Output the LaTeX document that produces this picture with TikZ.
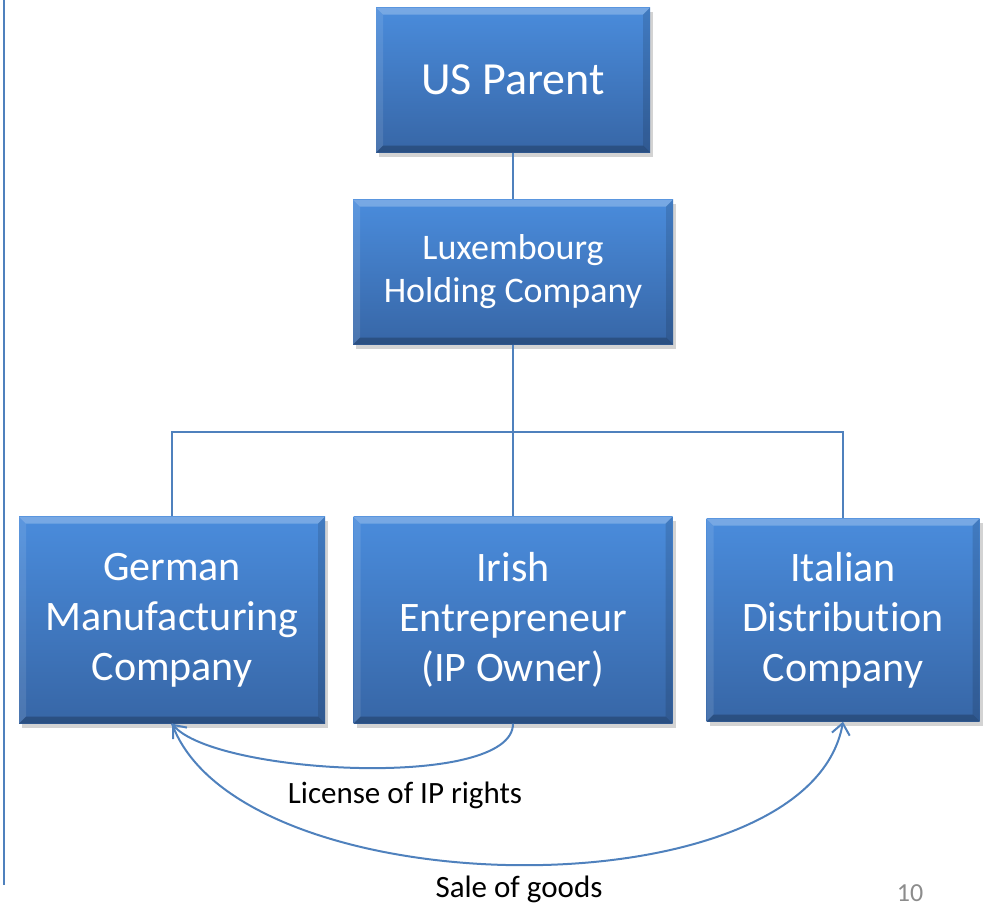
\documentclass[tikz,border=0pt]{standalone}
\usepackage{fontspec}
\setmainfont[Ligatures={NoCommon,NoContextual},Contextuals=NoAlternate]{Carlito}
\usetikzlibrary{arrows.meta,shadows}

\definecolor{boxtop}{RGB}{74,140,220}
\definecolor{boxbot}{RGB}{55,102,166}
\definecolor{linkblue}{RGB}{79,129,189}

\tikzset{bevel/.style={path picture={
  \fill[white,opacity=.25] (path picture bounding box.north west) -- (path picture bounding box.north east)
    -- ++(-7pt,-7pt) -- ([shift={(7pt,-7pt)}]path picture bounding box.north west) -- cycle;
  \fill[white,opacity=.1] (path picture bounding box.north west) -- (path picture bounding box.south west)
    -- ++(7pt,7pt) -- ([shift={(7pt,-7pt)}]path picture bounding box.north west) -- cycle;
  \fill[black,opacity=.12] (path picture bounding box.north east) -- (path picture bounding box.south east)
    -- ++(-7pt,7pt) -- ([shift={(-7pt,-7pt)}]path picture bounding box.north east) -- cycle;
  \fill[black,opacity=.22] (path picture bounding box.south west) -- (path picture bounding box.south east)
    -- ++(-7pt,7pt) -- ([shift={(7pt,7pt)}]path picture bounding box.south west) -- cycle;
}}}

\begin{document}
\begin{tikzpicture}[x=1pt,y=1pt,>={Straight Barb[length=11pt,width=18pt]},node distance=192pt]
    \tikzstyle{entity}=[rectangle,text=white,align=center,top color=boxtop,bottom color=boxbot,bevel,
        drop shadow={shadow xshift=3pt,shadow yshift=-4pt,opacity=.35}]
    \tikzstyle{link}=[draw=linkblue,line width=2pt]
    \useasboundingbox (0,0) rectangle (983,-908);

    \node[entity,minimum width=274pt,minimum height=145pt,font=\fontsize{46}{55}\selectfont] (US) at (513,-80) {US Parent};
    \node[entity,minimum width=320pt,minimum height=145pt,font=\fontsize{36}{43}\selectfont] (LU) [below of=US] {Luxembourg\\Holding Company};
    \node[entity,minimum width=319pt,minimum height=207pt,font=\fontsize{42}{50}\selectfont] (IE) [below of=LU,node distance=348pt] {Irish\\Entrepreneur\\(IP Owner)};
    \node[entity,minimum width=306pt,minimum height=207pt,font=\fontsize{42}{50}\selectfont] (DE) [left of=IE,node distance=341pt] {German\\Manufacturing\\Company};
    \node[entity,minimum width=273pt,minimum height=203pt,font=\fontsize{42}{50}\selectfont] (IT) [right of=IE,node distance=330pt] {Italian\\Distribut\kern0pt ion\\Company};

    \node[font=\fontsize{31}{36}\selectfont] (lic) at (405,-795) {License of IP rights};
    \node[font=\fontsize{31}{36}\selectfont] (sale) at (519,-889) {Sale of goods};
    \node[font=\fontsize{26}{30}\selectfont,text=black!45] (page) at (910,-893) {10};

    % slide border
    \draw[linkblue,line width=2pt] (4,0) -- (4,-885);

    \path[link] (US) -- (LU)
    (LU.south) -- ++(0,-87) coordinate (J)
    (J) -| (DE.north)
    (J) -| (IT.north)
    (J) -- (IE.north);

    \draw[link,->] (IE.south) to[out=-90,in=-50,looseness=.5] (DE.south);
    \draw[link,->] (DE.south) to[out=-70,in=-100,looseness=.75] (IT.south);
\end{tikzpicture}
\end{document}
